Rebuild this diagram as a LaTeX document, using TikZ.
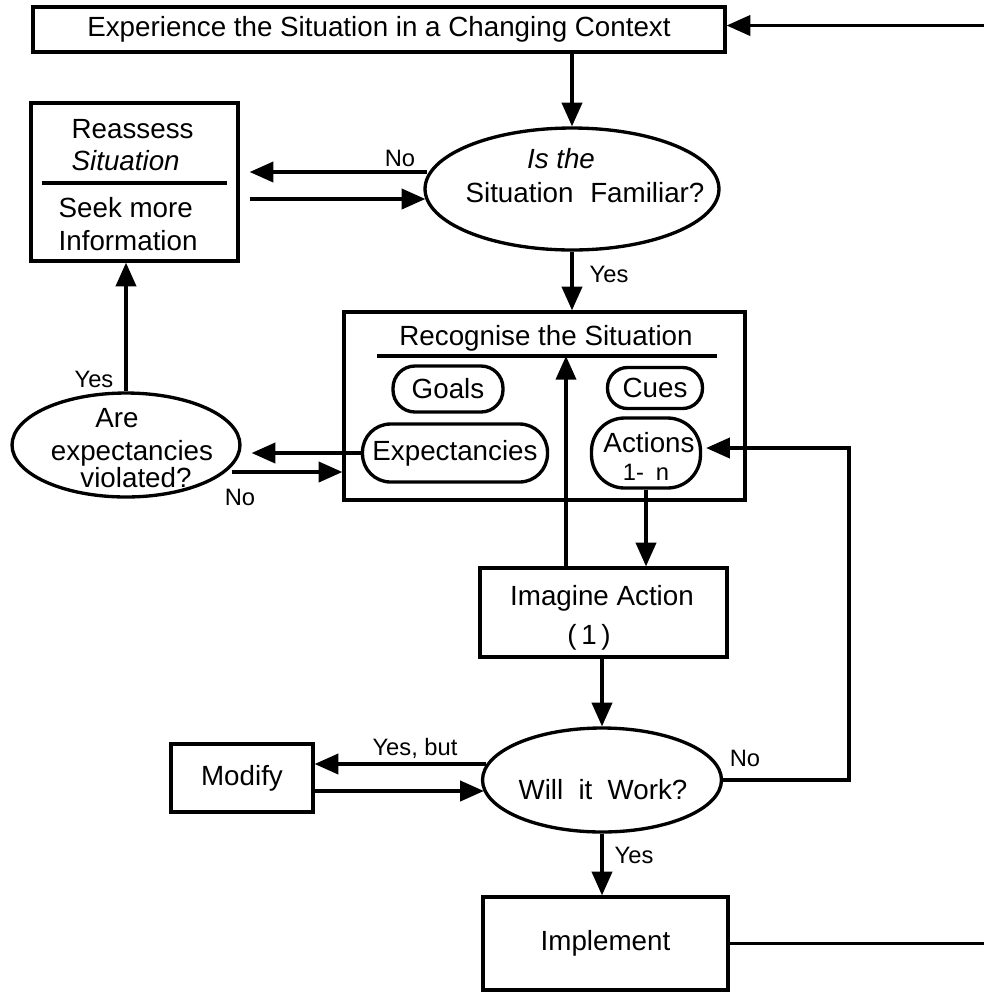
\documentclass[tikz,border=0pt]{standalone}
\usepackage{fontspec}
\setmainfont{Liberation Sans}
\usetikzlibrary{shapes.geometric,arrows.meta}
\newcommand\mainsz{\fontsize{15.8}{18}\selectfont}
\newcommand\lblsz{\fontsize{13.5}{15}\selectfont}

\begin{document}
\begin{tikzpicture}[x=0.02cm,y=-0.02cm,
  line width=1.9pt,
  arr/.style={-{Triangle[length=13.5pt,width=11.5pt]}},
  box/.style={draw,rectangle,inner sep=0pt,font=\mainsz},
  oval/.style={draw,ellipse,inner sep=0pt,font=\mainsz},
  pill/.style={draw,rectangle,inner sep=0pt,font=\mainsz},
  txt/.style={inner sep=0pt,font=\mainsz,text height=11pt,text depth=3pt},
  lbl/.style={inner sep=0pt,font=\lblsz,text height=9.6pt,text depth=2.6pt},
]
\useasboundingbox (0,0) rectangle (984,992);

% ---- boxes and decision ovals ----
\node[box,minimum width=13.84cm,minimum height=0.9cm] (exp) at (379,29.5)
  {Experience the Situation in a Changing Context};

\node[box,minimum width=4.14cm,minimum height=3.16cm] (reas) at (134.5,182) {};
\node[txt,anchor=west] (reasA) at (70,131) {Reassess};
\node[txt,anchor=west,font=\mainsz\itshape] (reasB) at (70,163) {Situation};
\node[txt,anchor=west] (reasC) at (57,210) {Seek more};
\node[txt,anchor=west] (reasD) at (57,243) {Information};
\draw (42,183) -- (227,183);

\node[oval,minimum width=5.88cm,minimum height=2.44cm] (fam) at (572,189) {};
\node[txt,font=\mainsz\itshape] (famA) at (561,161) {Is the};
\node[txt] (famB) at (585,195) {Situation\hspace{0.6em}Familiar?};

\node[box,minimum width=8.02cm,minimum height=3.76cm] (rec) at (544.5,406) {};
\node[txt] (recT) at (546,338) {Recognise the Situation};
\coordinate (divL) at (377,356);
\coordinate (divR) at (717,356);
\draw (divL) -- (divR);
\node[pill,minimum width=2.2cm,minimum height=0.92cm,rounded corners=0.44cm] (goals) at (448,389) {Goals};
\node[pill,minimum width=1.9cm,minimum height=0.82cm,rounded corners=0.4cm] (cues) at (655,388) {Cues};
\node[pill,minimum width=3.7cm,minimum height=1.16cm,rounded corners=0.56cm] (expc) at (455,453) {Expectancies};
\node[pill,minimum width=2.18cm,minimum height=1.4cm,rounded corners=0.66cm] (act) at (646,453) {};
\node[txt] (actA) at (649,445) {Actions};
\node[lbl] (actB) at (646,474) {1-\hspace{0.5em}n};

\node[oval,minimum width=4.56cm,minimum height=2.08cm] (viol) at (126,445) {};
\node[txt] (violA) at (117,420) {Are};
\node[txt] (violB) at (132,453) {expectancies};
\node[txt] (violC) at (136,480) {violated?};

\node[box,minimum width=4.94cm,minimum height=1.78cm] (img) at (603.5,612.5) {};
\node[txt] (imgA) at (602,598) {Imagine Action};
\node[txt] (imgB) at (589,637) {(\,1\,)};

\node[oval,minimum width=4.78cm,minimum height=2.08cm] (work) at (602,780) {};
\node[txt] (workT) at (603,792) {Will\hspace{0.55em}it\hspace{0.55em}Work?};

\node[box,minimum width=2.84cm,minimum height=1.36cm] (mod) at (242,778) {Modify};
\node[box,minimum width=4.9cm,minimum height=1.86cm] (impl) at (605.5,943.5) {Implement};

% ---- helper coordinates ----
\coordinate (redge) at (984,0);
\coordinate (loopx) at (849,0);
\coordinate (expin) at ([shift={(0,-4)}]exp.east);
\coordinate (famNo) at ([shift={(4,-17)}]fam.west);
\coordinate (famIn) at ([shift={(2,10)}]fam.west);
\coordinate (reasR) at ([shift={(10,0)}]reas.east);
\coordinate (imgUp) at ([shift={(-37.5,0)}]img.north);
\coordinate (wkA) at ([shift={(5,-16)}]work.west);
\coordinate (wkB) at ([shift={(3,11)}]work.west);
\coordinate (violR) at ([shift={(10,0)}]viol.east);
\coordinate (violOut) at ([shift={(-10,27)}]viol.east);

% ---- connectors ----
\draw[arr] (exp.south -| fam.north) -- (fam.north);
\draw[arr] (expin -| redge) -- (expin);
\draw (impl.east) -- (impl.east -| redge);

\draw[arr] (famNo) -- (famNo -| reasR);
\draw[arr] (famIn -| reasR) -- (famIn);
\node[lbl] (noA) at (400,160) {No};

\draw[arr] (fam.south) -- (fam.south |- rec.north);
\node[lbl,anchor=west] (yesA) at (588,276) {Yes};

\draw[arr] (imgUp) -- (imgUp |- divR);
\draw[arr] (act.south) -- (act.south |- img.north);

\draw[arr] (work.east) -- (work.east -| loopx) |- ([shift={(4,-5)}]act.east);
\node[lbl] (noC) at (745,760) {No};

\draw[arr] (img.south -| work.north) -- (work.north);

\draw[arr] (wkA) -- (wkA -| mod.east);
\draw[arr] (wkB -| mod.east) -- (wkB);
\node[lbl] (yb) at (415,749) {Yes, but};

\draw[arr] (work.south) -- (work.south |- impl.north);
\node[lbl,anchor=west] (yesC) at (613,857) {Yes};

\draw[arr] (expc.west) -- (expc.west -| violR);
\draw[arr] (violOut) -- (violOut -| rec.west);
\node[lbl] (noB) at (240,499) {No};

\draw[arr] (viol.north) -- (viol.north |- reas.south);
\node[lbl,anchor=east] (yesB) at (115,381) {Yes};
\end{tikzpicture}
\end{document}
